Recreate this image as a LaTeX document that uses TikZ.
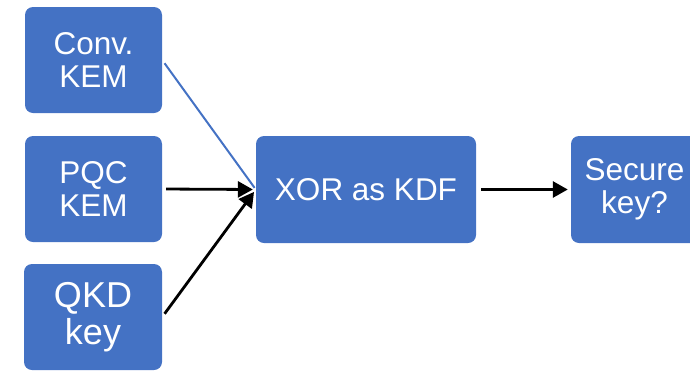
\documentclass[tikz,border=0pt]{standalone}
\usepackage{fontspec}
\setmainfont{Liberation Sans}
\usetikzlibrary{arrows.meta}
\definecolor{boxblue}{HTML}{4472C4}
\tikzset{
  blockbox/.style={fill=boxblue, draw=none, rounded corners=8pt, text=white,
    align=center, inner sep=0pt, minimum height=106pt,
    font=\fontsize{31.5}{33}\selectfont},
  feed/.style={line width=2.8pt, draw=black,
    -{Triangle[length=15pt,width=16pt]}},
}
\begin{document}
\begin{tikzpicture}[x=1pt,y=-1pt]
\useasboundingbox (0,0) rectangle (690,370);
% inputs
\node[blockbox, minimum width=137pt] (conv) at (93.5,60) {Conv.\\KEM};
\node[blockbox, minimum width=137pt] (pqc) at (93.5,189) {PQC\\KEM};
\node[blockbox, minimum width=138pt, font=\fontsize{36}{37}\selectfont] (qkd) at (93,317) {QKD\\key};
% combiner and result
\node[blockbox, minimum width=220pt, minimum height=107pt] (xor) at (366,189.5) {XOR as KDF};
\node[blockbox, minimum width=127pt, minimum height=107pt] (sec) at (634.5,189.5) {Secure\\key?};
% connectors
\draw[boxblue, line width=2pt, shorten <=4pt, shorten >=2pt] (conv.east) -- (xor.west);
\draw[feed, shorten <=4pt, shorten >=3pt] (pqc.east) -- (xor.west);
\draw[feed, shorten <=4pt, shorten >=3pt] (qkd.east) -- (xor.west);
\draw[feed, shorten <=5pt, shorten >=3pt] (xor.east) -- (sec.west);
\end{tikzpicture}
\end{document}
